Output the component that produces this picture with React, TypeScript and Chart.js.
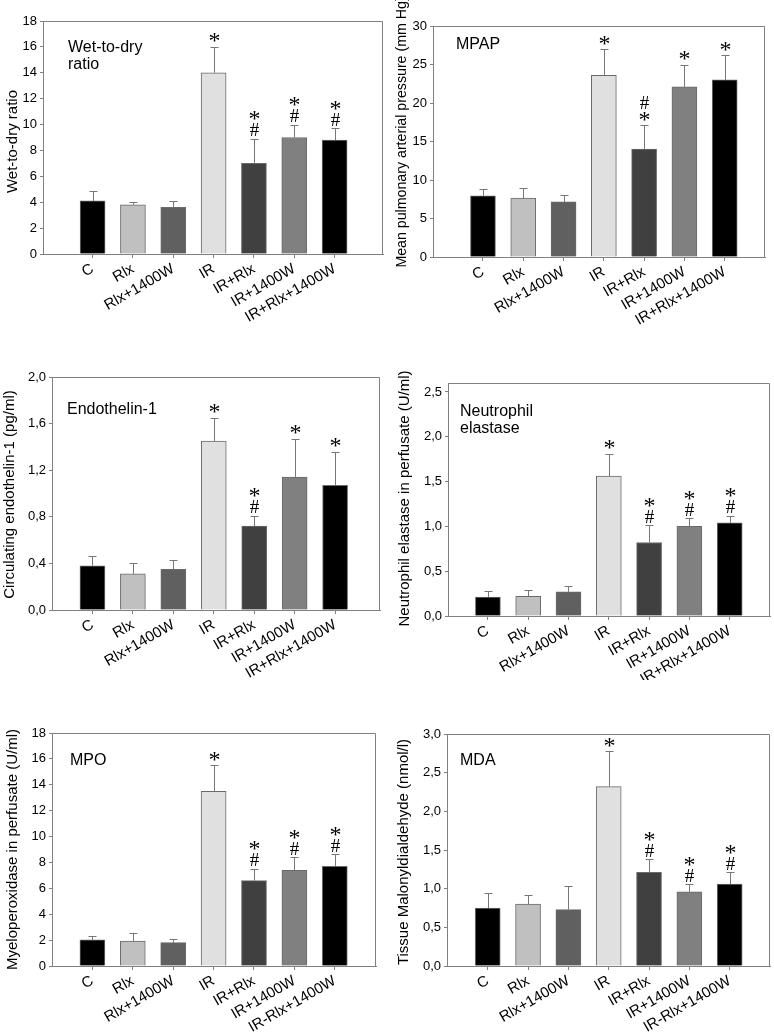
import React, { useEffect, useRef } from "react";
import { Chart, registerables } from "chart.js";

Chart.register(...registerables);
Chart.defaults.font.family = "'Liberation Sans', Arial, sans-serif";

// ---------- data ----------
const groups = ["C", "Rlx", "Rlx+1400W", "IR", "IR+Rlx", "IR+1400W", "IR+Rlx+1400W"];
const groupsAlt = ["C", "Rlx", "Rlx+1400W", "IR", "IR+Rlx", "IR+1400W", "IR-Rlx+1400W"];
const barColors = ["#000000", "#c0c0c0", "#606060", "#e0e0e0", "#404040", "#808080", "#000000"];

const wetDryMean = [4.1, 3.8, 3.6, 14.0, 7.0, 9.0, 8.8];
const wetDryErr = [0.8, 0.2, 0.5, 2.0, 1.9, 1.0, 0.9];
const wetDryMarks = ["", "", "", "*", "*#", "*#", "*#"];

const mpapMean = [7.95, 7.65, 7.15, 23.6, 14.0, 22.1, 23.0];
const mpapErr = [0.9, 1.3, 0.9, 3.4, 3.1, 2.9, 3.2];
const mpapMarks = ["", "", "", "*", "#*", "*", "*"];

const et1Mean = [0.38, 0.31, 0.35, 1.45, 0.72, 1.14, 1.07];
const et1Err = [0.08, 0.09, 0.08, 0.2, 0.09, 0.33, 0.29];
const et1Marks = ["", "", "", "*", "*#", "*", "*"];

const neMean = [0.21, 0.22, 0.27, 1.56, 0.82, 1.0, 1.04];
const neErr = [0.07, 0.07, 0.07, 0.25, 0.19, 0.09, 0.08];
const neMarks = ["", "", "", "*", "*#", "*#", "*#"];

const mpoMean = [2.02, 1.92, 1.8, 13.5, 6.6, 7.4, 7.7];
const mpoErr = [0.32, 0.62, 0.27, 2.0, 0.9, 1.0, 0.92];
const mpoMarks = ["", "", "", "*", "*#", "*#", "*#"];

const mdaMean = [0.75, 0.8, 0.73, 2.32, 1.21, 0.96, 1.06];
const mdaErr = [0.2, 0.12, 0.3, 0.46, 0.17, 0.1, 0.15];
const mdaMarks = ["", "", "", "*", "*#", "*#", "*#"];

// ---------- layout ----------
type Panel = {
  left: number; top: number; width: number; height: number;
  plot: [number, number, number, number];
  xMin: number; xMax: number;
  yMax: number; yStep: number; comma: boolean;
  labels: string[]; means: number[]; errs: number[]; marks: string[];
  title: string[]; titleDx: number; titleDy: number;
  yTitle: string; yTitleX: number; yTitleShift: number; yTitleSize: number;
};

const panels: Panel[] = [
  {
    left: 0, top: 0, width: 387, height: 340, plot: [43, 21, 383, 254],
    xMin: -1.23, xMax: 7.2, yMax: 18, yStep: 2, comma: false,
    labels: groups, means: wetDryMean, errs: wetDryErr, marks: wetDryMarks,
    title: ["Wet-to-dry", "ratio"], titleDx: 25, titleDy: 31,
    yTitle: "Wet-to-dry ratio", yTitleX: 13, yTitleShift: 4, yTitleSize: 15,
  },
  {
    left: 387, top: 0, width: 387, height: 340, plot: [46, 26, 378, 257],
    xMin: -1.24, xMax: 7.0, yMax: 30, yStep: 5, comma: false,
    labels: groups, means: mpapMean, errs: mpapErr, marks: mpapMarks,
    title: ["MPAP"], titleDx: 23, titleDy: 23,
    yTitle: "Mean pulmonary arterial pressure (mm Hg)", yTitleX: 15, yTitleShift: -9.5, yTitleSize: 14.2,
  },
  {
    left: 0, top: 340, width: 387, height: 340, plot: [52, 37, 380, 270],
    xMin: -1.0, xMax: 7.11, yMax: 2.0, yStep: 0.4, comma: true,
    labels: groups, means: et1Mean, errs: et1Err, marks: et1Marks,
    title: ["Endothelin-1"], titleDx: 15, titleDy: 37,
    yTitle: "Circulating endothelin-1 (pg/ml)", yTitleX: 10, yTitleShift: 1, yTitleSize: 15,
  },
  {
    left: 387, top: 340, width: 387, height: 340, plot: [61, 43, 383, 276],
    xMin: -0.99, xMax: 7.0, yMax: 2.6, yStep: 0.5, comma: true,
    labels: groups, means: neMean, errs: neErr, marks: neMarks,
    title: ["Neutrophil", "elastase"], titleDx: 12, titleDy: 33,
    yTitle: "Neutrophil elastase in perfusate (U/ml)", yTitleX: 18, yTitleShift: -1, yTitleSize: 15,
  },
  {
    left: 0, top: 680, width: 387, height: 353, plot: [52, 53, 376, 286],
    xMin: -1.0, xMax: 7.02, yMax: 18, yStep: 2, comma: false,
    labels: groupsAlt, means: mpoMean, errs: mpoErr, marks: mpoMarks,
    title: ["MPO"], titleDx: 18, titleDy: 32,
    yTitle: "Myeloperoxidase in perfusate (U/ml)", yTitleX: 13, yTitleShift: 0, yTitleSize: 15,
  },
  {
    left: 387, top: 680, width: 387, height: 353, plot: [60, 54, 383, 286],
    xMin: -1.01, xMax: 7.0, yMax: 3.0, yStep: 0.5, comma: true,
    labels: groupsAlt, means: mdaMean, errs: mdaErr, marks: mdaMarks,
    title: ["MDA"], titleDx: 13, titleDy: 31,
    yTitle: "Tissue Malonyldialdehyde (nmol/l)", yTitleX: 17, yTitleShift: 2, yTitleSize: 15,
  },
];

const AXIS_COLOR = "#808080";
const ERR_COLOR = "#777777";

function makePlugins(p: Panel) {
  return [
    {
      id: "frame",
      afterDraw(chart: any) {
        const { ctx, chartArea: a } = chart;
        ctx.save();
        ctx.strokeStyle = AXIS_COLOR;
        ctx.lineWidth = 1;
        ctx.beginPath();
        ctx.moveTo(Math.round(a.left) + 0.5, Math.round(a.top) + 0.5);
        ctx.lineTo(Math.round(a.right) - 0.5, Math.round(a.top) + 0.5);
        ctx.lineTo(Math.round(a.right) - 0.5, Math.round(a.bottom) + 0.5);
        ctx.stroke();
        ctx.restore();
      },
    },
    {
      id: "errorsAndMarks",
      afterDatasetsDraw(chart: any) {
        const { ctx } = chart;
        const xs = chart.scales.x;
        const ys = chart.scales.y;
        ctx.save();
        p.means.forEach((m, i) => {
          const x = Math.round(xs.getPixelForValue(i)) + 0.5;
          const y0 = ys.getPixelForValue(m);
          const y1 = ys.getPixelForValue(m + p.errs[i]);
          ctx.strokeStyle = ERR_COLOR;
          ctx.lineWidth = 1;
          ctx.beginPath();
          ctx.moveTo(x, y0);
          ctx.lineTo(x, Math.round(y1) + 0.5);
          ctx.moveTo(x - 4, Math.round(y1) + 0.5);
          ctx.lineTo(x + 4, Math.round(y1) + 0.5);
          ctx.stroke();
          // marks, listed top-first
          const sym = p.marks[i].split("").reverse();
          sym.forEach((s, k) => {
            const cy = y1 - 9 - k * 14;
            ctx.font = s === "*" ? "24px 'Liberation Serif'" : "19px 'Liberation Serif'";
            ctx.fillStyle = "#000";
            ctx.textAlign = "center";
            ctx.textBaseline = "alphabetic";
            const mt = ctx.measureText(s);
            const off = (mt.actualBoundingBoxAscent - mt.actualBoundingBoxDescent) / 2;
            ctx.fillText(s, x, cy + off);
          });
        });
        ctx.restore();
      },
    },
    {
      id: "titles",
      afterDraw(chart: any) {
        const { ctx, chartArea: a } = chart;
        ctx.save();
        ctx.font = "16px 'Liberation Sans'";
        ctx.fillStyle = "#000";
        ctx.textAlign = "left";
        ctx.textBaseline = "alphabetic";
        p.title.forEach((t, k) => ctx.fillText(t, a.left + p.titleDx, a.top + p.titleDy + k * 17));
        // y-axis title, rotated
        ctx.translate(p.yTitleX, (a.top + a.bottom) / 2 + p.yTitleShift);
        ctx.rotate(-Math.PI / 2);
        ctx.font = `${p.yTitleSize}px 'Liberation Sans'`;
        ctx.textAlign = "center";
        ctx.textBaseline = "middle";
        ctx.fillText(p.yTitle, 0, 0);
        ctx.restore();
      },
    },
  ];
}

function PanelChart({ p }: { p: Panel }) {
  const ref = useRef<HTMLCanvasElement | null>(null);
  useEffect(() => {
    if (!ref.current) return;
    const chart = new Chart(ref.current, {
      type: "bar",
      data: {
        datasets: [
          {
            data: p.means.map((v, i) => ({ x: i, y: v })),
            backgroundColor: barColors,
            borderColor: "#6a6a6a",
            borderWidth: 1,
            barThickness: 25,
          } as any,
        ],
      },
      options: {
        responsive: false,
        animation: false,
        events: [],
        layout: { padding: { left: 0, top: p.plot[1], right: p.width - p.plot[2], bottom: 0 } },
        plugins: { legend: { display: false }, tooltip: { enabled: false }, title: { display: false } },
        scales: {
          x: {
            type: "linear",
            min: p.xMin,
            max: p.xMax,
            offset: false,
            afterBuildTicks: (s: any) => {
              s.ticks = p.labels.map((_, i) => ({ value: i }));
            },
            afterFit: (s: any) => {
              s.height = p.height - p.plot[3];
            },
            ticks: {
              autoSkip: false,
              minRotation: 30,
              maxRotation: 30,
              font: { size: 15 },
              color: "#000",
              padding: 2,
              callback: (v: any) => p.labels[v] ?? "",
            },
            grid: { display: true, offset: false, drawOnChartArea: false, drawTicks: true, tickLength: 4, color: AXIS_COLOR },
            border: { display: true, color: AXIS_COLOR },
          },
          y: {
            type: "linear",
            min: 0,
            max: p.yMax,
            afterFit: (s: any) => {
              s.width = p.plot[0];
            },
            ticks: {
              stepSize: p.yStep,
              includeBounds: false,
              font: { size: 13 },
              color: "#000",
              padding: 3,
              callback: (v: any) => (p.comma ? Number(v).toFixed(1).replace(".", ",") : String(Math.round(Number(v)))),
            },
            grid: { display: true, drawOnChartArea: false, drawTicks: true, tickLength: 3, color: AXIS_COLOR },
            border: { display: true, color: AXIS_COLOR },
            title: { display: false },
          },
        },
      } as any,
      plugins: makePlugins(p) as any,
    });
    return () => chart.destroy();
  }, [p]);
  return (
    <canvas
      ref={ref}
      width={p.width}
      height={p.height}
      style={{ position: "absolute", left: p.left, top: p.top, width: p.width, height: p.height }}
    />
  );
}

export default function App() {
  return (
    <div style={{ position: "absolute", left: 0, top: 0, width: 774, height: 1033, background: "#fff" }}>
      {panels.map((p, i) => (
        <PanelChart key={i} p={p} />
      ))}
    </div>
  );
}
